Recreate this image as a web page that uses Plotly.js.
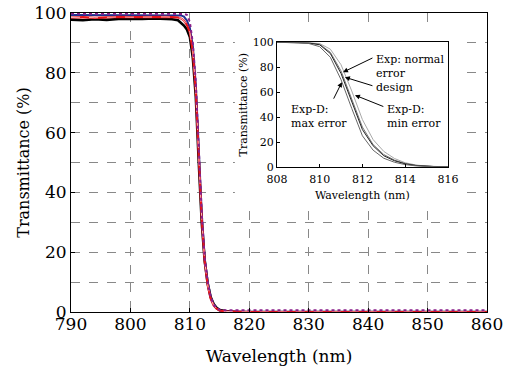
<!DOCTYPE html>
<html>
<head>
<meta charset="utf-8">
<script src="https://cdn.plot.ly/plotly-3.0.1.min.js"></script>
<style>html,body{margin:0;padding:0;background:#fff}#chart{width:505px;height:372px}</style>
</head>
<body>
<div id="chart"></div>
<script>
// Main chart data
const wavelength = [790,792,794,796,798,800,802,804,806,807,808,808.5,809,809.5,810,810.5,811,811.5,812,812.5,813,813.5,814,814.5,815,816,817,818,820,825,830,835,840,845,850,855,860];
const designT  = [99.8,99.8,99.8,99.8,99.8,99.8,99.8,99.8,99.8,99.8,99.8,99.8,99.7,99.4,97,90,77,55,33,18,10,5,2.5,1.2,0.8,0.6,0.6,0.6,0.6,0.6,0.6,0.6,0.6,0.6,0.6,0.6,0.6];
const normalT  = [99.3,99.3,99.4,99.3,99.3,99.4,99.3,99.3,99.3,99.3,99.3,99.2,98.8,97.5,95,89,76,54,33,18,10,5,2.5,1.2,0.5,0.2,0.1,0,0,0,0,0,0,0,0,0,0];
const maxErrT  = [98.5,98.6,98.4,98.6,98.7,98.6,98.7,98.6,98.7,98.6,98.5,98.2,97.5,96,93.5,87,74,52,31,17,9,4.5,2.2,1.1,0.5,0.2,0.1,0,0,0,0,0,0,0,0,0,0];
const minErrT  = [97.8,97.6,97.9,97.7,98.0,97.9,98.0,98.2,98.1,97.9,97.6,96.8,95.8,94.5,92,85,72,50,30,17,9.5,5,2.7,1.4,0.7,0.3,0.1,0,0,0,0,0,0,0,0,0,0];

// Inset data
const insetWl     = [808,808.5,809,809.5,810,810.5,811,811.5,812,812.5,813,813.5,814,814.5,815,815.5,816];
const insetMaxErr = [100,100,99.8,99.0,96.5,88,70,47,25,13.5,7,3.8,1.9,0.9,0.4,0.2,0.1];
const insetDesign = [100,100,99.9,99.4,98.0,91,75,53,30,17,9,5,2.5,1.2,0.5,0.2,0.1];
const insetNormal = [100,100,99.9,99.5,98.5,92,77,55,32,18,10,5.5,2.8,1.3,0.6,0.2,0.1];
const insetMinErr = [100,100,100,99.7,99.0,94.5,82,61,38,22,12.5,6.8,3.4,1.6,0.7,0.3,0.1];

const xTicks = [790,800,810,820,830,840,850,860];
const yTicks = [0,20,40,60,80,100];
const insetXTicks = [808,810,812,814,816];
const insetYTicks = [0,20,40,60,80,100];

const serif = 'DejaVu Serif, serif';

const traces = [
  {x: wavelength, y: minErrT, xaxis:'x', yaxis:'y', mode:'lines', line:{color:'#000', width:2.6}, hoverinfo:'skip'},
  {x: wavelength, y: normalT, xaxis:'x', yaxis:'y', mode:'lines', line:{color:'#1f2f8f', width:2}, hoverinfo:'skip'},
  {x: wavelength, y: maxErrT, xaxis:'x', yaxis:'y', mode:'lines', line:{color:'#e8141b', width:2.2}, hoverinfo:'skip'},
  {x: wavelength, y: maxErrT, xaxis:'x', yaxis:'y', mode:'lines', line:{color:'#ffffff', width:0.7, dash:'dash'}, hoverinfo:'skip'},
  {x: wavelength, y: designT, xaxis:'x', yaxis:'y', mode:'lines', line:{color:'#8a1f8a', width:2, dash:'dot'}, hoverinfo:'skip'},
  // white backing subplot for the inset
  {x: [], y: [], xaxis:'x2', yaxis:'y2', mode:'lines', hoverinfo:'skip'},
  // inset
  {x: insetWl, y: insetMinErr, xaxis:'x3', yaxis:'y3', mode:'lines', line:{color:'#a8a8a8', width:1}, hoverinfo:'skip'},
  {x: insetWl, y: insetNormal, xaxis:'x3', yaxis:'y3', mode:'lines', line:{color:'#777', width:1}, hoverinfo:'skip'},
  {x: insetWl, y: insetDesign, xaxis:'x3', yaxis:'y3', mode:'lines', line:{color:'#222', width:1}, hoverinfo:'skip'},
  {x: insetWl, y: insetMaxErr, xaxis:'x3', yaxis:'y3', mode:'lines', line:{color:'#666', width:1}, hoverinfo:'skip'}
];

function arrow(x, y, ax, ay) {
  return {x:x, y:y, ax:ax, ay:ay, xref:'x3', yref:'y3', axref:'x3', ayref:'y3',
          text:'', showarrow:true, arrowhead:2, arrowsize:1, arrowwidth:1, arrowcolor:'#000', standoff:0, startstandoff:0};
}
function label(x, y, t) {
  return {x:x, y:y, xref:'x3', yref:'y3', text:t, showarrow:false, xanchor:'left', yanchor:'top', align:'left',
          font:{family:serif, size:11, color:'#000'}};
}

const layout = {
  width: 505, height: 372,
  margin: {l:71, r:18, t:12.5, b:59.5},
  paper_bgcolor:'#fff', plot_bgcolor:'#fff',
  showlegend:false,
  xaxis: {range:[790,860], tickvals:xTicks, ticks:'inside', ticklen:4, tickcolor:'#000',
          showgrid:true, gridcolor:'#888', griddash:'dash', gridwidth:1,
          showline:true, linecolor:'#000', linewidth:1, mirror:true, zeroline:false,
          ticklabelstandoff:-3,
          tickfont:{family:serif, size:17, color:'#000'},
          title:{text:'Wavelength (nm)', font:{family:serif, size:17, color:'#000'}, standoff:16}},
  yaxis: {range:[0,100], tickvals:yTicks, ticks:'inside', ticklen:4, tickcolor:'#000',
          showgrid:true, gridcolor:'#888', griddash:'dash', gridwidth:1,
          minor:{dtick:10, showgrid:true, gridcolor:'#888', griddash:'dash', gridwidth:1, ticks:''},
          showline:true, linecolor:'#000', linewidth:1, mirror:true, zeroline:false,
          tickfont:{family:serif, size:17, color:'#000'},
          title:{text:'Transmittance (%)', font:{family:serif, size:16, color:'#000'}}},
  xaxis2: {domain:[0.394,0.942], anchor:'y2', visible:false, showgrid:false, zeroline:false},
  yaxis2: {domain:[0.365,0.948], anchor:'x2', visible:false, showgrid:false, zeroline:false},
  xaxis3: {domain:[0.495,0.906], anchor:'y3', range:[808,816], tickvals:insetXTicks, ticks:'inside', ticklen:3, tickcolor:'#000',
           showgrid:false, zeroline:false, showline:true, linecolor:'#000', linewidth:1, mirror:true,
           ticklabelstandoff:2,
           tickfont:{family:serif, size:11, color:'#000'},
           title:{text:'Wavelength (nm)', font:{family:serif, size:11, color:'#000'}, standoff:6}},
  yaxis3: {domain:[0.485,0.902], anchor:'x3', range:[0,100], tickvals:insetYTicks, ticks:'inside', ticklen:3, tickcolor:'#000',
           showgrid:false, zeroline:false, showline:true, linecolor:'#000', linewidth:1, mirror:true,
           tickfont:{family:serif, size:11, color:'#000'},
           title:{text:'Transmittance (%)', font:{family:serif, size:11, color:'#000'}, standoff:2}},
  annotations: [
    arrow(811.09, 76, 812.54, 88),
    arrow(811.18, 72, 812.54, 64.8),
    arrow(811.65, 57.6, 813.05, 48),
    arrow(811.04, 68, 810.62, 53.6),
    label(812.55, 93, 'Exp: normal<br>error'),
    label(812.55, 70.5, 'design'),
    label(813.05, 53, 'Exp-D:<br>min error'),
    label(808.55, 53, 'Exp-D:<br>max error')
  ]
};

Plotly.newPlot('chart', traces, layout, {staticPlot:true, displayModeBar:false});
</script>
</body>
</html>
